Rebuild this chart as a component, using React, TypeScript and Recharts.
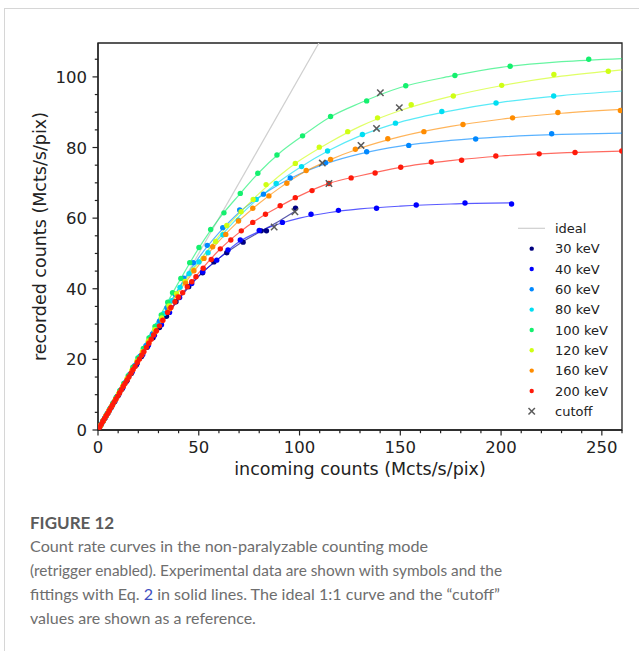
import React from "react";
import { ComposedChart, XAxis, YAxis, Line, Scatter, ReferenceArea } from "recharts";

// ---- series meta
const energies = ["30 keV", "40 keV", "60 keV", "80 keV", "100 keV", "120 keV", "160 keV", "200 keV"];
const colors = ["#00007f", "#0000ff", "#0088ff", "#00def2", "#14f06e", "#cfff14", "#ff8c00", "#ff1a0a"];

// ---- measured points (incoming, recorded) in Mcts/s/pix
const x30 = [1.2, 2.4, 3.6, 5, 6.5, 8.2, 10, 12, 14.2, 16.5, 19, 21.6, 24.4, 27.3, 30.5, 34, 38.7, 45, 51.9, 57.5, 63.9, 72, 81, 83.6, 98];
const y30 = [1.2, 2.4, 3.5, 4.9, 6.4, 8, 9.8, 11.7, 13.8, 16, 18.4, 20.8, 23.4, 26.1, 29, 32.2, 36.3, 40.6, 44.5, 47.6, 50.2, 53.2, 56.4, 56.4, 62.8];

const x40 = [1.3, 2.6, 3.9, 5.3, 6.8, 8.5, 10.4, 12.4, 14.6, 17, 19.5, 22.2, 25, 28, 31.5, 35.5, 40.5, 46.5, 52, 58.9, 64.5, 70.6, 80, 91.5, 105.7, 119.3, 138.2, 157.9, 182.1, 205.2];
const y40 = [1.3, 2.6, 3.8, 5.2, 6.7, 8.3, 10.2, 12.1, 14.2, 16.5, 18.9, 21.4, 24, 26.8, 29.8, 33.3, 37.5, 41.5, 44.8, 48.1, 51, 53.8, 56.5, 58.8, 61.1, 62.2, 62.8, 63.7, 64.3, 64.0];

const x60 = [1.1, 2.2, 3.4, 4.7, 6.1, 7.7, 9.4, 11.3, 13.4, 15.7, 18.2, 20.9, 23.8, 27, 30.5, 34.2, 38.2, 42.5, 47.3, 54.2, 61.9, 70.3, 82.1, 95.4, 112.9, 133.3, 154.2, 187.4, 225.1];
const y60 = [1.1, 2.2, 3.4, 4.7, 6.1, 7.7, 9.4, 11.3, 13.4, 15.7, 18.2, 20.9, 23.9, 27.2, 30.8, 34.6, 38.5, 43, 47.4, 52.3, 57.3, 62.3, 66.8, 71.4, 75.7, 78.8, 80.6, 82.4, 83.9];

const x80 = [1, 2.1, 3.3, 4.6, 6, 7.5, 9.2, 11, 13, 15.2, 17.6, 20.2, 23, 26, 29.3, 32.8, 36.6, 40.7, 45.2, 50.1, 54.6, 62, 69.7, 78.5, 88.4, 101, 113.9, 131.2, 147.6, 170.6, 197.5, 226.1];
const y80 = [1, 2.1, 3.3, 4.6, 6, 7.5, 9.2, 11.1, 13.1, 15.3, 17.8, 20.4, 23.2, 26.3, 29.6, 33, 36.6, 40.4, 44.3, 47.6, 50.2, 55.3, 59.4, 65.3, 69.8, 74.6, 79.0, 83.7, 86.9, 90.2, 92.6, 94.6];

const x100 = [1.4, 2.8, 4.2, 5.7, 7.3, 9, 10.8, 12.8, 15, 17.3, 19.8, 22.5, 25.3, 28.3, 31.4, 34.6, 37, 41.1, 45.5, 50.1, 55.9, 62.5, 70.6, 79.3, 88.8, 101.5, 115.4, 133.3, 152.7, 177.1, 204.5, 243.5];
const y100 = [1.4, 2.8, 4.3, 5.8, 7.5, 9.2, 11.1, 13.2, 15.4, 17.8, 20.4, 23.1, 26.1, 29.3, 32.6, 36.2, 38.9, 42.9, 47.4, 51.7, 56.8, 61.5, 67, 72.7, 77.9, 83.3, 88.8, 93.2, 97.5, 100.4, 103, 105];

const x120 = [1.2, 2.5, 3.8, 5.2, 6.7, 8.4, 10.2, 12.2, 14.4, 16.8, 19.3, 22, 25, 28.2, 31.6, 35.2, 39, 43.2, 47.3, 52.2, 58.4, 63.9, 71, 77, 83.4, 97.9, 109.8, 123.9, 138.7, 155.4, 176.3, 200.3, 226.2, 253.2];
const y120 = [1.2, 2.5, 3.8, 5.2, 6.7, 8.4, 10.3, 12.3, 14.5, 16.9, 19.5, 22.2, 25.2, 28.4, 31.7, 35.1, 38.6, 42.1, 45.3, 48.6, 53.4, 57.9, 61.8, 65.3, 69.5, 75.5, 80.1, 84.5, 88.4, 92.1, 94.6, 97.6, 100.7, 101.6];

const x160 = [1.3, 2.7, 4.1, 5.6, 7.2, 8.9, 10.7, 12.7, 14.9, 17.2, 19.7, 22.4, 25.3, 28.5, 31.9, 35.5, 39.5, 43.5, 47.6, 52.6, 56.9, 63.4, 69.7, 76.8, 84.8, 93.7, 103.3, 115.4, 127.7, 143.8, 161.7, 181.1, 205.7, 228.2, 259.2];
const y160 = [1.3, 2.7, 4.1, 5.6, 7.1, 8.8, 10.6, 12.6, 14.7, 17, 19.4, 22, 24.8, 27.8, 31, 34.3, 37.8, 41.6, 45.1, 48.6, 51.9, 55.4, 59.2, 62.8, 66.3, 69.9, 73.5, 76.6, 79.5, 82.5, 84.5, 86.5, 88.4, 89.9, 90.5];

const x200 = [0.8, 1.6, 2.4, 3.2, 4.0, 4.8, 5.6, 6.4, 7.2, 8.0, 8.9, 9.8, 10.7, 11.6, 12.5, 13.4, 14.4, 15.4, 16.4, 17.4, 18.4, 19.5, 20.6, 21.7, 22.8, 24, 25.2, 26.4, 27.6, 29, 30.5, 32.2, 34.5, 36.2, 38.2, 40, 42, 44.3, 46.5, 48.6, 52.2, 56.2, 60.7, 65.9, 71.1, 76.8, 83.1, 90.4, 97.9, 106.2, 114.6, 125.6, 137.5, 150.2, 165.4, 180.4, 197.4, 218.9, 236.7, 259.9];
const y200 = [0.8, 1.6, 2.4, 3.2, 4.0, 4.7, 5.5, 6.3, 7.1, 7.9, 8.8, 9.6, 10.5, 11.4, 12.3, 13.2, 14.1, 15.1, 16.1, 17.1, 18.0, 19.1, 20.1, 21.2, 22.2, 23.4, 24.5, 25.7, 26.9, 28.1, 29.5, 31.1, 33.3, 34.7, 36.3, 37.6, 38.9, 40.6, 42.0, 43.4, 45.8, 48.3, 51.3, 53.8, 56.4, 58.8, 61.1, 63.5, 65.8, 67.8, 69.8, 71.4, 72.8, 74.4, 75.9, 76.4, 77.6, 78.2, 78.6, 79.0];

// ---- fitted curves (Eq. 2)
const fitX30 = [0, 10, 20, 30, 40, 50, 60, 70, 80, 90, 98];
const fit30 = [0, 9.9, 19.6, 28.8, 37, 43.6, 48.6, 52.7, 56, 59.2, 62];
const fitX40 = [0, 10, 20, 30, 40, 50, 60, 70, 80, 90, 100, 115, 130, 150, 175, 205];
const fit40 = [0, 9.9, 19.6, 29, 37.3, 43.6, 48.6, 53.3, 56.2, 58.4, 60, 61.6, 62.6, 63.4, 64, 64.3];
const fitX = [0, 10, 20, 30, 40, 50, 60, 70, 80, 90, 100, 115, 130, 150, 175, 200, 230, 260];
const fit60 = [0, 10, 20.1, 30.2, 40, 48.8, 55.8, 61.6, 66, 69.6, 72.5, 75.8, 78.2, 80.4, 82, 83, 83.7, 84.1];
const fit80 = [0, 10.1, 20.2, 30.2, 40, 47.8, 54.3, 60.5, 65.8, 70.4, 74.3, 79.3, 83.3, 87.2, 90.4, 92.8, 94.7, 96];
const fit100 = [0, 10.3, 20.8, 31.5, 41.8, 51.5, 59.8, 66.6, 73, 78.4, 82.7, 88.6, 92.6, 97, 100.2, 102.7, 104.3, 105.2];
const fit120 = [0, 10.1, 20.2, 30, 39.5, 47.5, 55, 61.3, 67, 72, 76.3, 81.5, 86, 90.5, 94.5, 97.5, 100.2, 102];
const fit160 = [0, 10, 19.9, 29.6, 39, 46.7, 53.5, 59.3, 64.2, 68.5, 72.3, 76.5, 79.8, 83.1, 86, 88, 89.7, 90.8];
const fit200 = [0, 9.9, 19.6, 29, 37.2, 44.5, 50.9, 55.9, 60, 63.3, 66.3, 69.9, 72, 74.4, 76.3, 77.6, 78.5, 79];

// ---- ideal 1:1 and cutoff markers
const idealX = [0, 109.6];
const idealY = [0, 109.6];
const cutoffX = [97.7, 87.4, 111.3, 138.2, 140.1, 149.5, 130.5, 114.6];
const cutoffY = [61.8, 57.5, 75.6, 85.4, 95.5, 91.3, 80.6, 69.8];

// ---- axes
const X_MAX = 260;
const Y_MAX = 109.6;
const xTicks = Array.from({ length: 27 }, (_, i) => i * 10);
const yTicks = Array.from({ length: 22 }, (_, i) => i * 5);

const pts = (xs: number[], ys: number[]) => xs.map((x, i) => ({ x, y: ys[i] }));

const measured = [
  pts(x30, y30), pts(x40, y40), pts(x60, y60), pts(x80, y80),
  pts(x100, y100), pts(x120, y120), pts(x160, y160), pts(x200, y200),
];
const fits = [
  pts(fitX30, fit30), pts(fitX40, fit40), pts(fitX, fit60), pts(fitX, fit80),
  pts(fitX, fit100), pts(fitX, fit120), pts(fitX, fit160), pts(fitX, fit200),
];

const AXIS = "#222";
const FONT = '"DejaVu Sans", sans-serif';

const XTick = (props: any) => {
  const { x, y, payload } = props;
  const major = payload.value % 50 === 0;
  return (
    <g>
      <line x1={x} y1={y} x2={x} y2={y + (major ? 5.5 : 3.2)} stroke={AXIS} strokeWidth={1.2} />
      {major && (
        <text x={x} y={y + 23} textAnchor="middle" fontSize={16.5} fill={AXIS} fontFamily={FONT}>
          {payload.value}
        </text>
      )}
    </g>
  );
};

const YTick = (props: any) => {
  const { x, y, payload } = props;
  const major = payload.value % 20 === 0;
  return (
    <g>
      <line x1={x} y1={y} x2={x - (major ? 5.5 : 3.2)} y2={y} stroke={AXIS} strokeWidth={1.2} />
      {major && (
        <text x={x - 11} y={y + 6} textAnchor="end" fontSize={16.5} fill={AXIS} fontFamily={FONT}>
          {payload.value}
        </text>
      )}
    </g>
  );
};

const dotShape = (color: string) => (p: any) => <circle cx={p.cx} cy={p.cy} r={2.7} fill={color} />;

const crossShape = (p: any) => (
  <g stroke="#5a5a5a" strokeWidth={1.5}>
    <line x1={p.cx - 3.2} y1={p.cy - 3.2} x2={p.cx + 3.2} y2={p.cy + 3.2} />
    <line x1={p.cx - 3.2} y1={p.cy + 3.2} x2={p.cx + 3.2} y2={p.cy - 3.2} />
  </g>
);

function Chart() {
  return (
    <ComposedChart width={639} height={470} margin={{ top: 43, right: 17, bottom: 10, left: 38 }}>
      <XAxis
        type="number"
        dataKey="x"
        domain={[0, X_MAX]}
        ticks={xTicks}
        interval={0}
        tickSize={0}
        tickMargin={0}
        tickLine={false}
        tick={<XTick />}
        axisLine={{ stroke: AXIS, strokeWidth: 1.3 }}
        height={30}
        allowDataOverflow
      />
      <YAxis
        type="number"
        dataKey="y"
        domain={[0, Y_MAX]}
        ticks={yTicks}
        interval={0}
        tickSize={0}
        tickMargin={0}
        tickLine={false}
        tick={<YTick />}
        axisLine={{ stroke: AXIS, strokeWidth: 1.3 }}
        width={60}
        allowDataOverflow
      />
      <Line
        data={pts(idealX, idealY)}
        dataKey="y"
        type="linear"
        stroke="#cfcfcf"
        strokeWidth={1.2}
        dot={false}
        activeDot={false}
        isAnimationActive={false}
      />
      {fits.map((d, i) => (
        <Line
          key={"fit" + i}
          data={d}
          dataKey="y"
          type="monotone"
          stroke={colors[i]}
          strokeOpacity={0.65}
          strokeWidth={1.2}
          dot={false}
          activeDot={false}
          isAnimationActive={false}
        />
      ))}
      {measured.map((d, i) => (
        <Scatter key={"m" + i} data={d} dataKey="y" fill={colors[i]} shape={dotShape(colors[i])} isAnimationActive={false} />
      ))}
      <Scatter data={pts(cutoffX, cutoffY)} dataKey="y" shape={crossShape} isAnimationActive={false} />
      <ReferenceArea x1={0} x2={X_MAX} y1={0} y2={Y_MAX} fill="none" stroke={AXIS} strokeWidth={1.3} ifOverflow="visible" />
    </ComposedChart>
  );
}

const legendRows = ["ideal", ...energies, "cutoff"];

export default function App() {
  return (
    <div style={{ position: "fixed", left: 0, top: 0, width: 639, height: 651, background: "#fff", overflow: "hidden" }}>
      <div style={{ position: "absolute", left: 4, top: 8, width: 700, height: 700, border: "1px solid #d6d6d6", boxSizing: "border-box" }} />
      <div style={{ position: "absolute", left: 0, top: 0 }}>
        <Chart />
      </div>
      <svg width={639} height={651} style={{ position: "absolute", left: 0, top: 0, pointerEvents: "none" }}>
        <text transform="translate(46,236.5) rotate(-90)" textAnchor="middle" fontSize={17.5} fill={AXIS} fontFamily={FONT}>
          recorded counts (Mcts/s/pix)
        </text>
        <text x={360} y={475} textAnchor="middle" fontSize={17.5} fill={AXIS} fontFamily={FONT}>
          incoming counts (Mcts/s/pix)
        </text>

        {legendRows.map((label, i) => {
          const cy = 228.3 + i * 20.33;
          let marker;
          if (i === 0) marker = <line x1={518} x2={545} y1={cy} y2={cy} stroke="#cfcfcf" strokeWidth={1.2} />;
          else if (i === legendRows.length - 1) marker = crossShape({ cx: 531.7, cy });
          else marker = <circle cx={531.7} cy={cy} r={2.2} fill={colors[i - 1]} />;
          return (
            <g key={label}>
              {marker}
              <text x={555} y={cy + 4.6} fontSize={13} fill={AXIS} fontFamily={FONT}>
                {label}
              </text>
            </g>
          );
        })}

        <g fontFamily='Lato, "Open Sans", sans-serif'>
          <text x={30} y={529} fontSize={17} fontWeight={700} fill="#5b5b5b">
            FIGURE 12
          </text>
          <g fontSize={16} fill="#6e6e6e">
            <text x={30} y={552} textLength={398} lengthAdjust="spacingAndGlyphs">
              Count rate curves in the non-paralyzable counting mode
            </text>
            <text x={30} y={576} textLength={472} lengthAdjust="spacingAndGlyphs">
              (retrigger enabled). Experimental data are shown with symbols and the
            </text>
            <text x={30} y={600} textLength={470} lengthAdjust="spacingAndGlyphs">
              fittings with Eq. <tspan fill="#3f4fc0">2</tspan> in solid lines. The ideal 1:1 curve and the “cutoff”
            </text>
            <text x={30} y={624}>
              values are shown as a reference.
            </text>
          </g>
        </g>
      </svg>
    </div>
  );
}
